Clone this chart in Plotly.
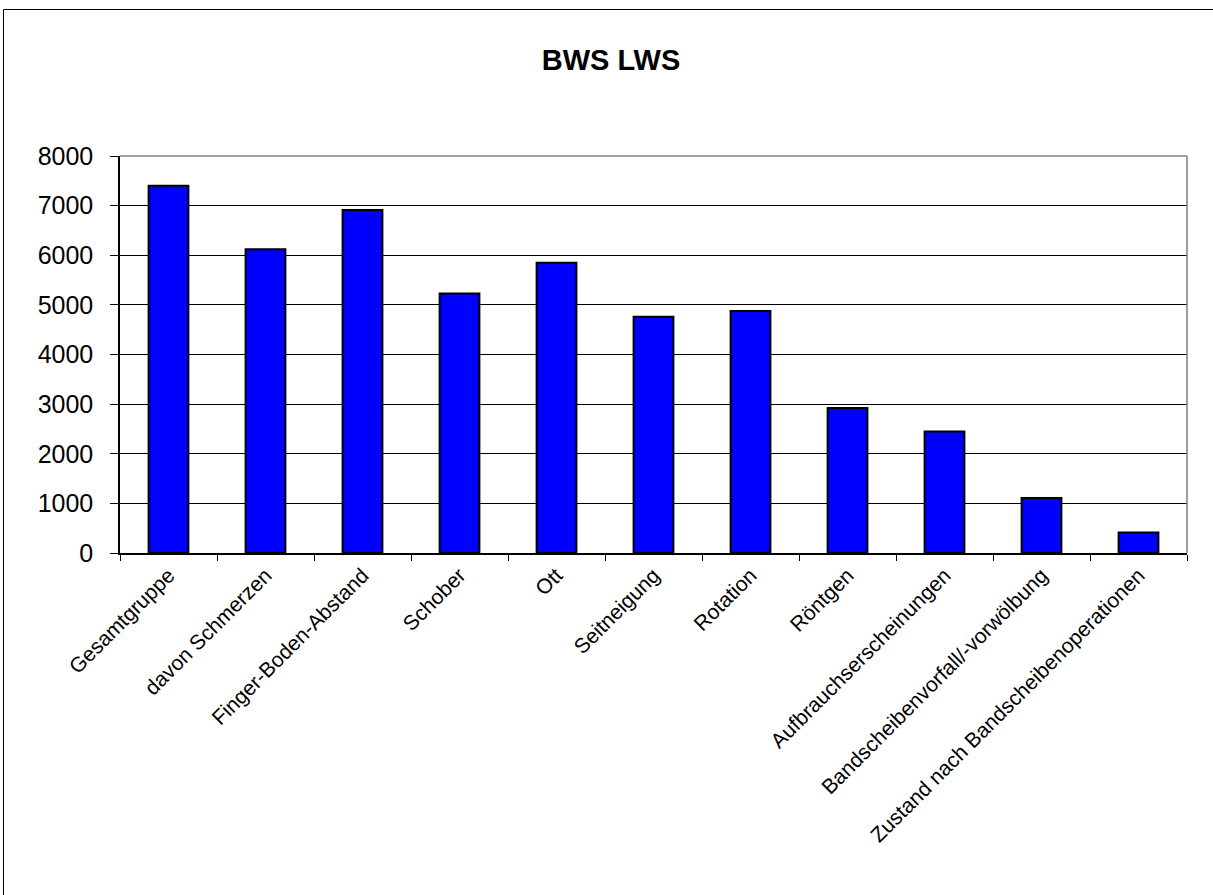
import plotly.graph_objects as go

categories = ["Gesamtgruppe", "davon Schmerzen", "Finger-Boden-Abstand", "Schober", "Ott",
              "Seitneigung", "Rotation", "Röntgen", "Aufbrauchserscheinungen",
              "Bandscheibenvorfall/-vorwölbung", "Zustand nach Bandscheibenoperationen"]
values = [7400, 6120, 6910, 5230, 5850, 4760, 4875, 2920, 2450, 1110, 415]
y_ticks = [0, 1000, 2000, 3000, 4000, 5000, 6000, 7000, 8000]

W, H = 1213, 895
L, R, T, B = 120, 26, 156, 342
pw, ph = W - L - R, H - T - B

fig = go.Figure(go.Bar(
    x=categories, y=values,
    marker=dict(color="#0000FF", line=dict(color="black", width=2)),
    width=0.41,
))

def px_to_paper_x(px):
    return (px - L) / pw

def px_to_paper_y(py):
    return (H - B - py) / ph

fig.update_layout(
    width=W, height=H,
    margin=dict(l=L, r=R, t=T, b=B),
    paper_bgcolor="white", plot_bgcolor="white",
    font=dict(family="Liberation Sans, Arial, sans-serif", color="black"),
    title=dict(text="<b>BWS LWS</b>", x=611 / W, xanchor="center", y=1 - 60 / H, yanchor="middle",
               font=dict(size=29, color="black")),
    showlegend=False,
    shapes=[
        dict(type="line", xref="paper", yref="paper",
             x0=px_to_paper_x(3.5), x1=px_to_paper_x(W),
             y0=px_to_paper_y(9.5), y1=px_to_paper_y(9.5),
             line=dict(color="black", width=1)),
        dict(type="line", xref="paper", yref="paper",
             x0=px_to_paper_x(3.5), x1=px_to_paper_x(3.5),
             y0=px_to_paper_y(9.5), y1=px_to_paper_y(H),
             line=dict(color="black", width=1)),
        dict(type="line", xref="paper", yref="paper", x0=0, x1=1, y0=1, y1=1,
             line=dict(color="#808080", width=1.5)),
        dict(type="line", xref="paper", yref="paper", x0=1, x1=1, y0=0, y1=1,
             line=dict(color="#808080", width=1.5)),
    ],
)

fig.update_xaxes(
    type="category", tickangle=-45, tickfont=dict(size=21, color="black"),
    showline=True, linecolor="black", linewidth=1.5,
    ticks="outside", tickson="boundaries", ticklen=6, tickcolor="black", tickwidth=1,
    showgrid=False,
)
fig.update_yaxes(
    range=[0, 8000], tickvals=y_ticks, tickfont=dict(size=25, color="black"),
    showline=True, linecolor="black", linewidth=1.5,
    ticks="outside", ticklen=8, tickcolor="black", tickwidth=1,
    ticklabelstandoff=12,
    showgrid=True, gridcolor="black", gridwidth=1, zeroline=False,
)

fig.write_html("out.html")
